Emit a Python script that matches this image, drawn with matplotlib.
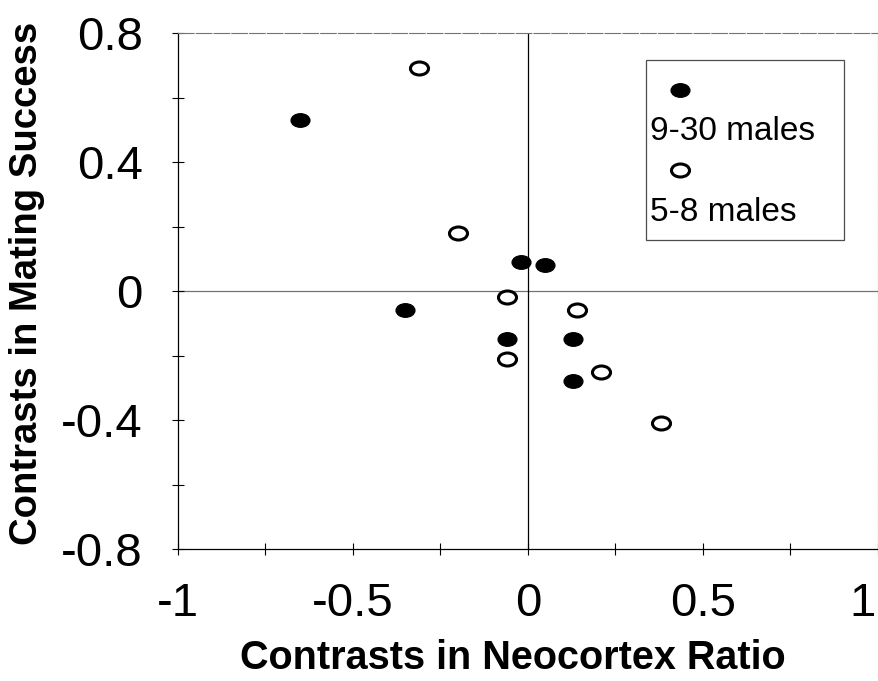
import numpy as np
import matplotlib
matplotlib.use("Agg")
import matplotlib.pyplot as plt
from matplotlib.path import Path
from matplotlib.transforms import Affine2D, ScaledTranslation
from matplotlib.patches import Rectangle

plt.rcParams['font.family'] = ['Liberation Sans', 'DejaVu Sans']

# 9-30 males (filled)
big_x = [-0.65, -0.35, -0.02, 0.05, -0.06, 0.13, 0.13]
big_y = [0.53, -0.06, 0.09, 0.08, -0.15, -0.15, -0.28]

# 5-8 males (open)
small_x = [-0.31, -0.20, -0.06, 0.14, -0.06, 0.21, 0.38]
small_y = [0.69, 0.18, -0.02, -0.06, -0.21, -0.25, -0.41]

xtick_pos = [-1, -0.75, -0.5, -0.25, 0, 0.25, 0.5, 0.75, 1]
xtick_lab = ['-1', '', '-0.5', '', '0', '', '0.5', '', '1']
ytick_pos = [-0.8, -0.6, -0.4, -0.2, 0, 0.2, 0.4, 0.6, 0.8]
ytick_lab = ['-0.8', '', '-0.4', '', '0', '', '0.4', '', '0.8']

# oval marker, wider than tall
oval = Path.unit_circle().transformed(Affine2D().scale(1, 0.72))

fig = plt.figure(figsize=(8.79, 6.81), dpi=100)
ax = fig.add_axes([178/879, 1 - 549/681, 700/879, 516/681])

ax.set_xlim(-1, 1)
ax.set_ylim(-0.8, 0.8)

# axes through the origin
ax.axhline(0, color='0.45', lw=0.9, zorder=1)
ax.axvline(0, color='black', lw=0.9, zorder=1)

ax.plot(big_x, big_y, linestyle='none', marker=oval, ms=13.5,
        mfc='black', mec='black', mew=1, zorder=3)
ax.plot(small_x, small_y, linestyle='none', marker=oval, ms=13,
        mfc='white', mec='black', mew=2.2, zorder=3)

# legend box, Excel style: marker above its label
ax.add_patch(Rectangle((0.668, 0.598), 0.283, 0.35, transform=ax.transAxes,
                       fill=False, ec='0.3', lw=0.9, zorder=4))
ax.plot([0.717], [0.889], transform=ax.transAxes, linestyle='none', marker=oval,
        ms=13.5, mfc='black', mec='black', zorder=5)
ax.plot([0.717], [0.735], transform=ax.transAxes, linestyle='none', marker=oval,
        ms=13, mfc='white', mec='black', mew=2.2, zorder=5)
ax.text(0.674, 0.81, '9-30 males', transform=ax.transAxes, fontsize=24,
        va='center', ha='left', zorder=5)
ax.text(0.674, 0.652, '5-8 males', transform=ax.transAxes, fontsize=24,
        va='center', ha='left', zorder=5)

ax.set_xticks(xtick_pos)
ax.set_xticklabels(xtick_lab)
ax.set_yticks(ytick_pos)
ax.set_yticklabels(ytick_lab)

ax.tick_params(axis='both', direction='inout', length=9, width=0.8,
               labelsize=34, colors='black')
ax.tick_params(axis='x', pad=19)
ax.tick_params(axis='y', pad=21)

# the "1" sits a little inside the right edge in the original
lab_one = ax.get_xticklabels()[-1]
lab_one.set_transform(lab_one.get_transform() + ScaledTranslation(-15/100, 0, fig.dpi_scale_trans))

for s in ['left', 'bottom']:
    ax.spines[s].set_color('black')
    ax.spines[s].set_linewidth(0.9)
for s in ['top', 'right']:
    ax.spines[s].set_color('0.45')
    ax.spines[s].set_linewidth(0.8)
    ax.spines[s].set_linestyle((0, (14, 2)))

ax.set_xlabel('Contrasts in Neocortex Ratio', fontsize=28.5, fontweight='bold')
ax.set_ylabel('Contrasts in Mating Success', fontsize=27.5, fontweight='bold')
ax.xaxis.set_label_coords(0.479, -0.175)
ax.yaxis.set_label_coords(-0.19, 0.514)

fig.savefig('out.png', dpi=100)
